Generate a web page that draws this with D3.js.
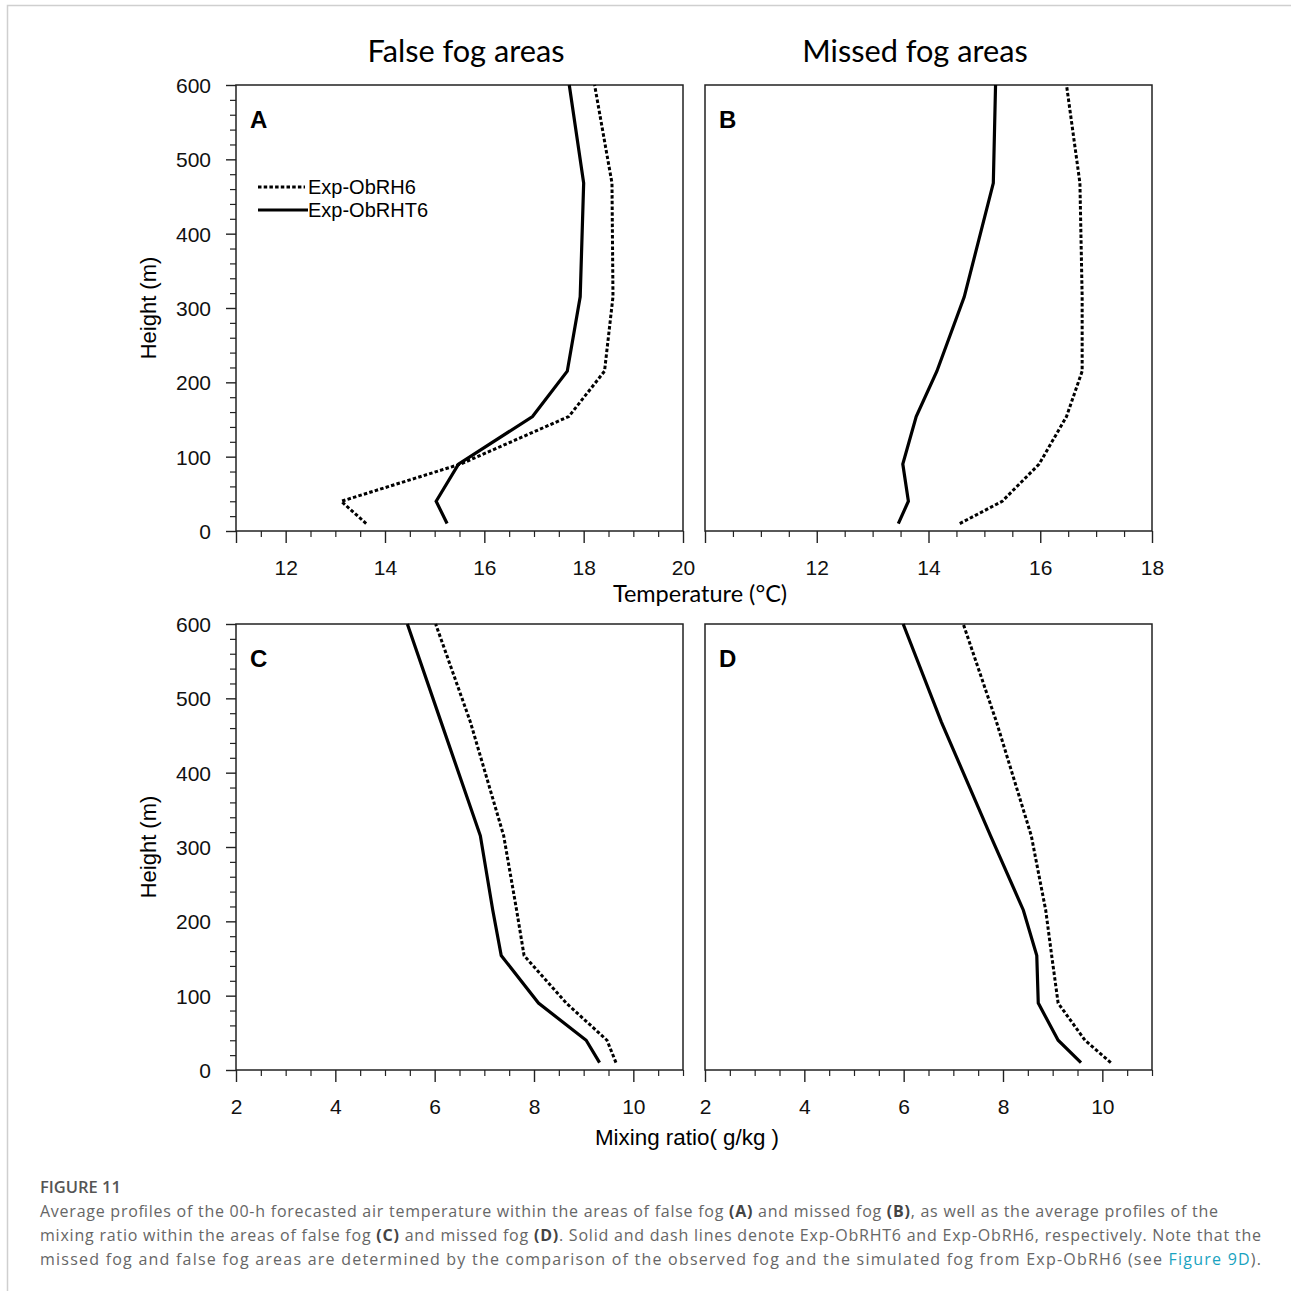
<!DOCTYPE html>
<html>
<head>
<meta charset="utf-8">
<script src="https://cdn.jsdelivr.net/npm/d3@7"></script>
<style>
 body{margin:0;background:#fff;}
 .tick text{font-family:"Liberation Sans",Arial,sans-serif;font-size:21px;fill:#111;}
 .domain{display:none;}
</style>
</head>
<body>
<div id="chart"></div>
<script>
// Heights of the model levels (m)
var heights = [10, 40, 90, 154, 215, 315, 468, 600];

// Temperature profiles (°C), false fog areas (A)
var tempFalseRH6  = [13.62, 13.12, 15.52, 17.70, 18.42, 18.59, 18.57, 18.22];
var tempFalseRHT6 = [15.25, 15.03, 15.48, 16.97, 17.67, 17.93, 18.00, 17.71];
// Temperature profiles (°C), missed fog areas (B)
var tempMissRH6   = [14.56, 15.32, 15.98, 16.47, 16.75, 16.75, 16.71, 16.47];
var tempMissRHT6  = [13.46, 13.64, 13.54, 13.78, 14.15, 14.64, 15.16, 15.20];
// Mixing ratio profiles (g/kg), false fog areas (C)
var mixFalseRH6   = [9.65, 9.47, 8.65, 7.80, 7.65, 7.39, 6.72, 6.02];
var mixFalseRHT6  = [9.32, 9.05, 8.09, 7.34, 7.17, 6.92, 6.13, 5.45];
// Mixing ratio profiles (g/kg), missed fog areas (D)
var mixMissRH6    = [10.17, 9.65, 9.11, 8.98, 8.86, 8.57, 7.87, 7.20];
var mixMissRHT6   = [9.57, 9.11, 8.71, 8.68, 8.41, 7.75, 6.76, 5.99];

// Tick labels
var heightTicks = [0, 100, 200, 300, 400, 500, 600];
var tempTicksA = [12, 14, 16, 18, 20];
var tempTicksB = [12, 14, 16, 18];
var mixTicks = [2, 4, 6, 8, 10];

var seriesNames = ["Exp-ObRH6", "Exp-ObRHT6"];

var W = 1291, H = 1291;
var svg = d3.select("#chart").append("svg")
  .attr("width", W).attr("height", H);

// light frame round the figure
svg.append("path")
  .attr("d", "M7.5," + H + "V5.5H" + W)
  .attr("fill", "none").attr("stroke", "#cfcfcf").attr("stroke-width", 1.5);

var pw = 447, ph = 446;
var panels = [
 {id:"A", x:236, y:85,  dom:[11,20], ticks:tempTicksA, major:[11,12,14,16,18,20], yAxis:true,  rh6:tempFalseRH6, rht6:tempFalseRHT6, legend:true},
 {id:"B", x:705, y:85,  dom:[10,18], ticks:tempTicksB, major:[10,12,14,16,18], yAxis:false, rh6:tempMissRH6,  rht6:tempMissRHT6},
 {id:"C", x:236, y:624, dom:[2,11],  ticks:mixTicks,   major:[2,4,6,8,10], yAxis:true,  rh6:mixFalseRH6,  rht6:mixFalseRHT6},
 {id:"D", x:705, y:624, dom:[2,11],  ticks:mixTicks,   major:[2,4,6,8,10], yAxis:false, rh6:mixMissRH6,   rht6:mixMissRHT6}
];

panels.forEach(function(p){
 var g = svg.append("g").attr("transform","translate(" + p.x + "," + p.y + ")");
 var xs = d3.scaleLinear().domain(p.dom).range([0, pw]);
 var ys = d3.scaleLinear().domain([0, 600]).range([ph, 0]);

 // minor x ticks every 0.5
 var minorX = d3.range(p.dom[0], p.dom[1] + 0.001, 0.5).filter(function(v){ return p.major.indexOf(v) < 0; });
 g.append("g").attr("transform","translate(0," + ph + ")")
  .call(d3.axisBottom(xs).tickValues(minorX).tickSize(6).tickFormat(""))
  .selectAll("line").attr("stroke","#222").attr("stroke-width",1.2);
 var xa = g.append("g").attr("transform","translate(0," + ph + ")")
  .call(d3.axisBottom(xs).tickValues(p.major).tickSize(12).tickPadding(17)
        .tickFormat(function(d){ return p.ticks.indexOf(d) >= 0 ? d : ""; }));
 xa.selectAll("line").attr("stroke","#222").attr("stroke-width",1.4);

 if(p.yAxis){
  var minorY = d3.range(0, 601, 20).filter(function(v){ return v % 100 !== 0; });
  g.append("g")
   .call(d3.axisLeft(ys).tickValues(minorY).tickSize(6).tickFormat(""))
   .selectAll("line").attr("stroke","#222").attr("stroke-width",1.2);
  var ya = g.append("g")
   .call(d3.axisLeft(ys).tickValues(heightTicks).tickSize(10).tickPadding(15));
  ya.selectAll("line").attr("stroke","#222").attr("stroke-width",1.4);
  ya.selectAll("text").attr("dy","0.36em");
  g.append("text")
   .attr("transform","translate(-80," + (ph / 2) + ") rotate(-90)")
   .attr("text-anchor","middle")
   .style("font-family","'Liberation Sans',Arial,sans-serif").style("font-size","22px")
   .text("Height (m)");
 }

 // frame
 g.append("rect").attr("width", pw).attr("height", ph)
  .attr("fill","none").attr("stroke","#222").attr("stroke-width",1.5);

 var line = d3.line()
  .x(function(d){ return xs(d[0]); })
  .y(function(d){ return ys(d[1]); });

 g.append("path").datum(d3.zip(p.rh6, heights))
  .attr("d", line).attr("fill","none").attr("stroke","#000")
  .attr("stroke-width",3).attr("stroke-dasharray","3.5,2.2");
 g.append("path").datum(d3.zip(p.rht6, heights))
  .attr("d", line).attr("fill","none").attr("stroke","#000")
  .attr("stroke-width",3.2).attr("stroke-linejoin","miter");

 g.append("text").attr("x", 14).attr("y", 43)
  .style("font-family","'Liberation Sans',Arial,sans-serif").style("font-size","24px")
  .style("font-weight","bold").text(p.id);

 if(p.legend){
  var lg = g.append("g").attr("transform","translate(22,102)");
  seriesNames.forEach(function(name, i){
   lg.append("line").attr("x1",0).attr("x2",i ? 50 : 47).attr("y1", i * 23).attr("y2", i * 23)
    .attr("stroke","#000").attr("stroke-width", 3)
    .attr("stroke-dasharray", i ? null : "3.5,2.2");
   lg.append("text").attr("x",50).attr("y", i * 23 + 7)
    .style("font-family","'Liberation Sans',Arial,sans-serif").style("font-size","20px")
    .text(name);
  });
 }
});

// column titles and axis titles
svg.append("text").attr("x",466).attr("y",62).attr("text-anchor","middle")
 .style("font-family","Lato,sans-serif").style("font-size","30.7px").text("False fog areas");
svg.append("text").attr("x",915).attr("y",62).attr("text-anchor","middle")
 .style("font-family","Lato,sans-serif").style("font-size","30.7px").text("Missed fog areas");
svg.append("text").attr("x",700).attr("y",602).attr("text-anchor","middle")
 .style("font-family","Lato,sans-serif").style("font-size","23.5px").text("Temperature (°C)");
svg.append("text").attr("x",687).attr("y",1145).attr("text-anchor","middle")
 .style("font-family","'Liberation Sans',Arial,sans-serif").style("font-size","22.4px").text("Mixing ratio( g/kg )");

// caption
svg.append("text").attr("x",40).attr("y",1193)
 .style("font-family","'Open Sans',sans-serif").style("font-size","16.5px").style("font-weight","600")
 .attr("fill","#555").text("FIGURE 11");

var capLines = [
 {len:1178, parts:[["Average profiles of the 00-h forecasted air temperature within the areas of false fog ",0],["(A)",1],[" and missed fog ",0],["(B)",1],[", as well as the average profiles of the",0]]},
 {len:1221, parts:[["mixing ratio within the areas of false fog ",0],["(C)",1],[" and missed fog ",0],["(D)",1],[". Solid and dash lines denote Exp-ObRHT6 and Exp-ObRH6, respectively. Note that the",0]]},
 {len:1221, parts:[["missed fog and false fog areas are determined by the comparison of the observed fog and the simulated fog from Exp-ObRH6 (see ",0],["Figure 9D",2],[").",0]]}
];
capLines.forEach(function(l, i){
 var t = svg.append("text").attr("x",40).attr("y",1217 + i * 24)
  .attr("textLength", l.len).attr("lengthAdjust","spacing")
  .style("font-family","'Open Sans',sans-serif").style("font-size","16px").attr("fill","#666");
 l.parts.forEach(function(pt){
  t.append("tspan").text(pt[0])
   .style("font-weight", pt[1] === 1 ? "700" : "400")
   .attr("fill", pt[1] === 2 ? "#1aa3c0" : (pt[1] === 1 ? "#444" : "#666"));
 });
});
</script>
</body>
</html>
